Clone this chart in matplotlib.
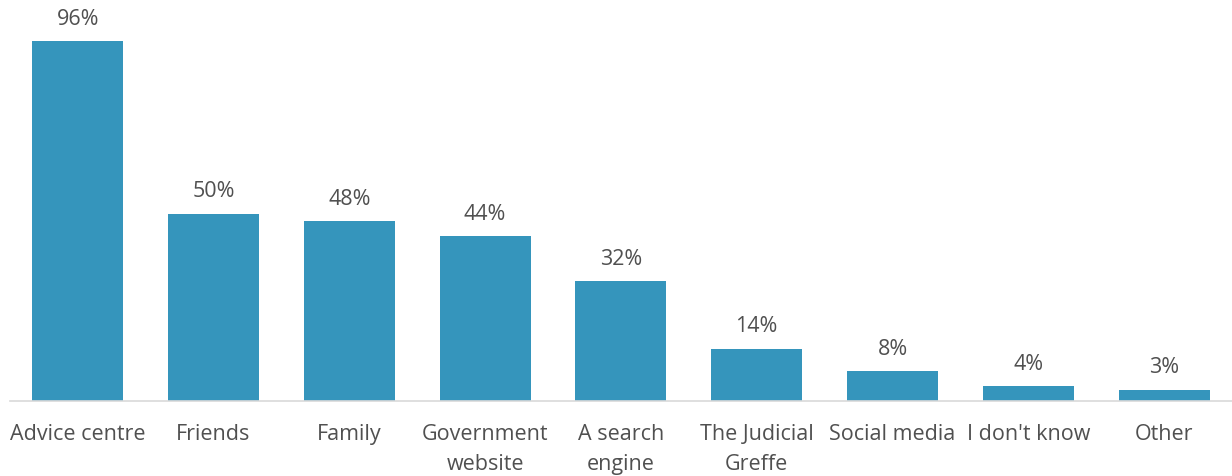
import matplotlib.pyplot as plt
import matplotlib as mpl
mpl.use('Agg')

categories = ['Advice centre', 'Friends', 'Family', 'Government\nwebsite',
              'A search\nengine', 'The Judicial\nGreffe', 'Social media',
              "I don't know", 'Other']
values = [96, 50, 48, 44, 32, 14, 8, 4, 3]

plt.rcParams['font.family'] = ['Open Sans', 'DejaVu Sans']
text_color = '#505050'
bar_color = '#3595BC'

fig = plt.figure(figsize=(12.32, 4.77), dpi=100)
ax = fig.add_axes([0.008, 0.157, 0.992, 0.786])

x = list(range(len(categories)))
bars = ax.bar(x, values, width=0.67, color=bar_color)

for xi, v in zip(x, values):
    ax.annotate('%d%%' % v, (xi, v), xytext=(0, 9), textcoords='offset points',
                ha='center', va='bottom', fontsize=15.5, color=text_color)

ax.set_xlim(-0.5, len(categories) - 0.5)
ax.set_ylim(0, 100)
ax.set_xticks(x)
ax.set_xticklabels(categories, fontsize=15.5, color=text_color, linespacing=1.55)
ax.tick_params(axis='x', length=0, pad=16)
ax.set_yticks([])
for side in ('top', 'right', 'left'):
    ax.spines[side].set_visible(False)
ax.spines['bottom'].set_color('#D9D9D9')
ax.spines['bottom'].set_linewidth(1.2)

fig.savefig('out.png', dpi=100)
